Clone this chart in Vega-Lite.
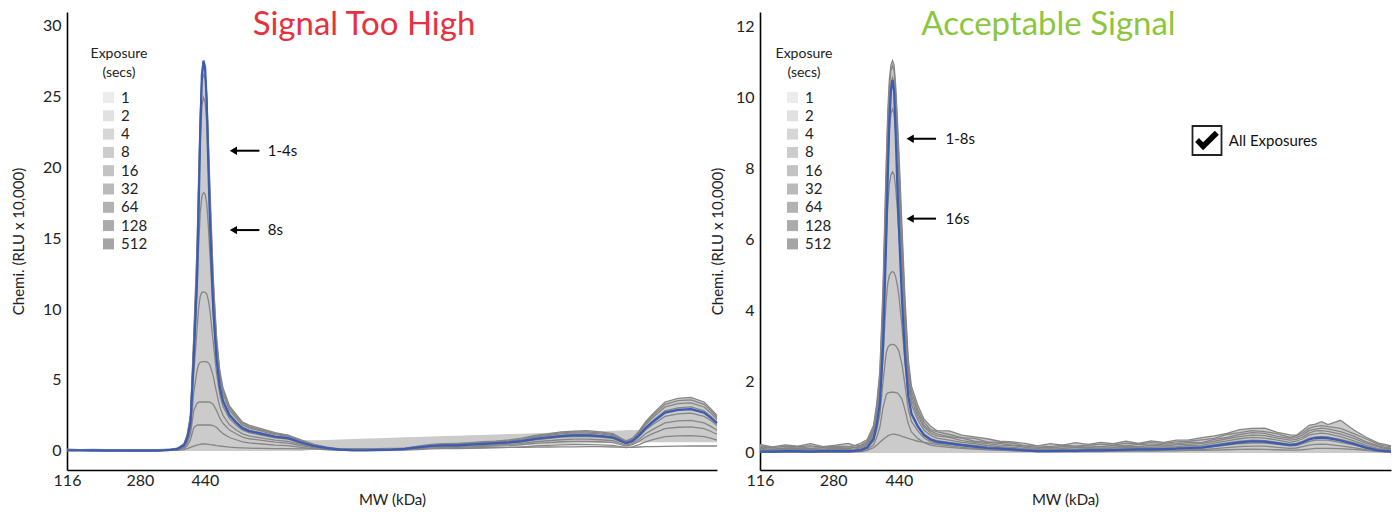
{
  "$schema": "https://vega.github.io/schema/vega-lite/v6.json",
  "padding": {"left": 11, "top": 9, "right": 5, "bottom": 5},
  "config": {
    "font": "Lato",
    "view": {"stroke": null},
    "axis": {"grid": false, "ticks": false, "domainColor": "#000", "domainWidth": 1.6, "labelFontSize": 16, "labelColor": "#222", "titleFontSize": 15, "titleFontWeight": "normal", "titleColor": "#222", "labelPadding": 6, "labelFlush": false},
    "title": {"fontSize": 33, "fontWeight": "normal", "offset": -30}
  },
  "spacing": -12,
  "resolve": {"scale": {"color": "independent"}, "legend": {"color": "independent"}},
  "datasets": {
    "legend": [{"k": "1"}, {"k": "2"}, {"k": "4"}, {"k": "8"}, {"k": "16"}, {"k": "32"}, {"k": "64"}, {"k": "128"}, {"k": "512"}],
    "notes": [
      {"s": "L", "xh": 25.6, "x2": 29.6, "xt": 30.9, "y": 21.15, "t": "1-4s"},
      {"s": "L", "xh": 25.6, "x2": 29.6, "xt": 30.9, "y": 15.56, "t": "8s"},
      {"s": "R", "xh": 23.8, "x2": 27.9, "xt": 29.4, "y": 8.85, "t": "1-8s"},
      {"s": "R", "xh": 23.8, "x2": 27.9, "xt": 29.4, "y": 6.6, "t": "16s"}
    ],
    "check": [{"x": 70.84, "y": 8.8, "xt": 74.3, "t": "All Exposures"}],
    "left": [
      {"p":0,"e1":0.02,"e2":0.02,"e4":0.03,"e8":0.04,"e16":0.05,"e32":0.06,"e64":0.08,"e128":0.1,"e512":0.12,"b":0.05,"ft":0.12,"fb":0},
      {"p":2,"e1":0.02,"e2":0.02,"e4":0.03,"e8":0.04,"e16":0.05,"e32":0.06,"e64":0.07,"e128":0.09,"e512":0.1,"b":0.05,"ft":0.1,"fb":0},
      {"p":4,"e1":0.02,"e2":0.02,"e4":0.03,"e8":0.03,"e16":0.04,"e32":0.05,"e64":0.07,"e128":0.08,"e512":0.11,"b":0.04,"ft":0.11,"fb":0},
      {"p":6,"e1":0.02,"e2":0.02,"e4":0.02,"e8":0.03,"e16":0.04,"e32":0.05,"e64":0.06,"e128":0.08,"e512":0.09,"b":0.03,"ft":0.09,"fb":0},
      {"p":8,"e1":0.02,"e2":0.02,"e4":0.02,"e8":0.03,"e16":0.04,"e32":0.05,"e64":0.06,"e128":0.07,"e512":0.1,"b":0.03,"ft":0.1,"fb":0},
      {"p":10,"e1":0.02,"e2":0.01,"e4":0.02,"e8":0.02,"e16":0.03,"e32":0.04,"e64":0.05,"e128":0.07,"e512":0.08,"b":0.02,"ft":0.08,"fb":0},
      {"p":12,"e1":0.02,"e2":0.01,"e4":0.02,"e8":0.02,"e16":0.03,"e32":0.04,"e64":0.05,"e128":0.06,"e512":0.09,"b":0.02,"ft":0.09,"fb":0},
      {"p":14,"e1":0.02,"e2":0.02,"e4":0.02,"e8":0.03,"e16":0.04,"e32":0.05,"e64":0.06,"e128":0.08,"e512":0.1,"b":0.03,"ft":0.1,"fb":0},
      {"p":15,"e1":0.03,"e2":0.03,"e4":0.04,"e8":0.05,"e16":0.06,"e32":0.07,"e64":0.08,"e128":0.1,"e512":0.11,"b":0.05,"ft":0.11,"fb":0},
      {"p":16,"e1":0.04,"e2":0.04,"e4":0.05,"e8":0.07,"e16":0.08,"e32":0.09,"e64":0.1,"e128":0.12,"e512":0.13,"b":0.08,"ft":0.13,"fb":0},
      {"p":17,"e1":0.05,"e2":0.06,"e4":0.1,"e8":0.11,"e16":0.14,"e32":0.16,"e64":0.17,"e128":0.18,"e512":0.2,"b":0.15,"ft":0.2,"fb":0},
      {"p":18,"e1":0.1,"e2":0.17,"e4":0.25,"e8":0.3,"e16":0.37,"e32":0.42,"e64":0.46,"e128":0.49,"e512":0.51,"b":0.4,"ft":0.51,"fb":0},
      {"p":18.5,"e1":0.16,"e2":0.37,"e4":0.56,"e8":0.68,"e16":0.83,"e32":0.95,"e64":1.04,"e128":1.1,"e512":1.14,"b":0.9,"ft":1.14,"fb":0},
      {"p":19,"e1":0.25,"e2":0.79,"e4":1.21,"e8":1.49,"e16":1.83,"e32":2.1,"e64":2.3,"e128":2.44,"e512":2.54,"b":2,"ft":2.54,"fb":0},
      {"p":19.5,"e1":0.34,"e2":1.65,"e4":2.86,"e8":4.13,"e16":5.5,"e32":6.59,"e64":7.36,"e128":7.8,"e512":8.1,"b":6.5,"ft":8.1,"fb":0},
      {"p":20,"e1":0.42,"e2":1.82,"e4":3.36,"e8":5.64,"e16":8.56,"e32":11.2,"e64":13.1,"e128":13.9,"e512":14.4,"b":12,"ft":14.4,"fb":0},
      {"p":20.25,"e1":0.45,"e2":1.83,"e4":3.44,"e8":6.09,"e16":10.07,"e32":14.4,"e64":17.6,"e128":18.8,"e512":19.3,"b":17,"ft":19.3,"fb":0},
      {"p":20.5,"e1":0.47,"e2":1.83,"e4":3.45,"e8":6.25,"e16":10.9,"e32":16.8,"e64":21.8,"e128":23.3,"e512":23.8,"b":22.5,"ft":23.8,"fb":0},
      {"p":20.75,"e1":0.49,"e2":1.83,"e4":3.45,"e8":6.28,"e16":11.17,"e32":17.95,"e64":24.3,"e128":26,"e512":26.4,"b":26.5,"ft":26.5,"fb":0},
      {"p":21,"e1":0.49,"e2":1.83,"e4":3.45,"e8":6.3,"e16":11.2,"e32":18.2,"e64":24.9,"e128":26.5,"e512":27,"b":27.5,"ft":27.5,"fb":0},
      {"p":21.25,"e1":0.49,"e2":1.83,"e4":3.45,"e8":6.3,"e16":11.18,"e32":18.1,"e64":24.6,"e128":26.3,"e512":26.7,"b":27,"ft":27,"fb":0},
      {"p":21.5,"e1":0.48,"e2":1.83,"e4":3.45,"e8":6.27,"e16":11.05,"e32":17.4,"e64":23.1,"e128":24.7,"e512":25.1,"b":24.5,"ft":25.1,"fb":0},
      {"p":21.75,"e1":0.47,"e2":1.83,"e4":3.45,"e8":6.2,"e16":10.6,"e32":15.8,"e64":20,"e128":21.4,"e512":21.9,"b":20,"ft":21.9,"fb":0},
      {"p":22,"e1":0.45,"e2":1.83,"e4":3.44,"e8":6.04,"e16":9.85,"e32":13.8,"e64":16.8,"e128":17.9,"e512":18.4,"b":16,"ft":18.4,"fb":0},
      {"p":22.5,"e1":0.42,"e2":1.79,"e4":3.28,"e8":5.27,"e16":7.64,"e32":9.66,"e64":11.1,"e128":11.8,"e512":12.2,"b":10,"ft":12.2,"fb":0},
      {"p":23,"e1":0.38,"e2":1.65,"e4":2.86,"e8":4.13,"e16":5.5,"e32":6.59,"e64":7.36,"e128":7.8,"e512":8.1,"b":6.5,"ft":8.1,"fb":0},
      {"p":23.5,"e1":0.35,"e2":1.42,"e4":2.33,"e8":3.12,"e16":3.97,"e32":4.64,"e64":5.15,"e128":5.45,"e512":5.67,"b":4.5,"ft":5.67,"fb":0},
      {"p":24,"e1":0.32,"e2":1.22,"e4":1.95,"e8":2.51,"e16":3.14,"e32":3.65,"e64":4,"e128":4.25,"e512":4.43,"b":3.5,"ft":4.43,"fb":0},
      {"p":25,"e1":0.27,"e2":0.95,"e4":1.47,"e8":1.84,"e16":2.28,"e32":2.62,"e64":2.87,"e128":3.05,"e512":3.17,"b":2.5,"ft":3.17,"fb":0},
      {"p":26,"e1":0.24,"e2":0.79,"e4":1.21,"e8":1.49,"e16":1.83,"e32":2.1,"e64":2.32,"e128":2.46,"e512":2.6,"b":2,"ft":2.6,"fb":0},
      {"p":27,"e1":0.22,"e2":0.64,"e4":0.98,"e8":1.21,"e16":1.47,"e32":1.68,"e64":1.84,"e128":1.97,"e512":2.03,"b":1.6,"ft":2.03,"fb":0},
      {"p":28,"e1":0.2,"e2":0.57,"e4":0.86,"e8":1.06,"e16":1.29,"e32":1.47,"e64":1.63,"e128":1.71,"e512":1.82,"b":1.4,"ft":1.82,"fb":0},
      {"p":30,"e1":0.18,"e2":0.49,"e4":0.75,"e8":0.91,"e16":1.1,"e32":1.26,"e64":1.38,"e128":1.46,"e512":1.55,"b":1.2,"ft":1.55,"fb":0},
      {"p":32,"e1":0.17,"e2":0.41,"e4":0.62,"e8":0.76,"e16":0.92,"e32":1.05,"e64":1.15,"e128":1.22,"e512":1.3,"b":1,"ft":1.3,"fb":0},
      {"p":34,"e1":0.16,"e2":0.37,"e4":0.56,"e8":0.68,"e16":0.83,"e32":0.95,"e64":1.04,"e128":1.1,"e512":1.12,"b":0.9,"ft":1.12,"fb":0},
      {"p":36,"e1":0.15,"e2":0.25,"e4":0.38,"e8":0.46,"e16":0.55,"e32":0.63,"e64":0.69,"e128":0.73,"e512":0.78,"b":0.6,"ft":0.78,"fb":0},
      {"p":38,"e1":0.15,"e2":0.15,"e4":0.22,"e8":0.27,"e16":0.32,"e32":0.37,"e64":0.4,"e128":0.43,"e512":0.46,"b":0.35,"ft":0.76,"fb":0.08},
      {"p":40,"e1":0.15,"e2":0.08,"e4":0.13,"e8":0.15,"e16":0.18,"e32":0.21,"e64":0.23,"e128":0.24,"e512":0.27,"b":0.2,"ft":0.78,"fb":0.1},
      {"p":42,"e1":0.16,"e2":0.04,"e4":0.06,"e8":0.08,"e16":0.09,"e32":0.11,"e64":0.12,"e128":0.12,"e512":0.15,"b":0.1,"ft":0.81,"fb":0.08},
      {"p":44,"e1":0.16,"e2":0.02,"e4":0.03,"e8":0.04,"e16":0.05,"e32":0.05,"e64":0.06,"e128":0.06,"e512":0.08,"b":0.05,"ft":0.84,"fb":0.05},
      {"p":46,"e1":0.17,"e2":0.02,"e4":0.03,"e8":0.04,"e16":0.05,"e32":0.05,"e64":0.06,"e128":0.07,"e512":0.09,"b":0.05,"ft":0.87,"fb":0.05},
      {"p":48,"e1":0.17,"e2":0.03,"e4":0.05,"e8":0.06,"e16":0.07,"e32":0.08,"e64":0.09,"e128":0.1,"e512":0.11,"b":0.08,"ft":0.9,"fb":0.08},
      {"p":50,"e1":0.18,"e2":0.04,"e4":0.06,"e8":0.08,"e16":0.09,"e32":0.11,"e64":0.12,"e128":0.13,"e512":0.14,"b":0.1,"ft":0.93,"fb":0.1},
      {"p":52,"e1":0.19,"e2":0.06,"e4":0.1,"e8":0.11,"e16":0.14,"e32":0.16,"e64":0.17,"e128":0.19,"e512":0.2,"b":0.15,"ft":0.96,"fb":0.15},
      {"p":54,"e1":0.2,"e2":0.1,"e4":0.16,"e8":0.19,"e16":0.23,"e32":0.26,"e64":0.29,"e128":0.31,"e512":0.34,"b":0.25,"ft":0.99,"fb":0.22},
      {"p":56,"e1":0.2,"e2":0.15,"e4":0.22,"e8":0.27,"e16":0.32,"e32":0.37,"e64":0.4,"e128":0.43,"e512":0.46,"b":0.35,"ft":1.02,"fb":0.27},
      {"p":58,"e1":0.21,"e2":0.17,"e4":0.25,"e8":0.3,"e16":0.37,"e32":0.42,"e64":0.46,"e128":0.49,"e512":0.52,"b":0.4,"ft":1.05,"fb":0.29},
      {"p":60,"e1":0.22,"e2":0.17,"e4":0.25,"e8":0.3,"e16":0.37,"e32":0.42,"e64":0.46,"e128":0.5,"e512":0.54,"b":0.4,"ft":1.08,"fb":0.31},
      {"p":62,"e1":0.22,"e2":0.19,"e4":0.28,"e8":0.34,"e16":0.41,"e32":0.47,"e64":0.52,"e128":0.55,"e512":0.58,"b":0.45,"ft":1.1,"fb":0.33},
      {"p":64,"e1":0.23,"e2":0.21,"e4":0.32,"e8":0.38,"e16":0.46,"e32":0.53,"e64":0.58,"e128":0.61,"e512":0.66,"b":0.5,"ft":1.13,"fb":0.35},
      {"p":66,"e1":0.24,"e2":0.23,"e4":0.35,"e8":0.42,"e16":0.51,"e32":0.58,"e64":0.63,"e128":0.67,"e512":0.7,"b":0.55,"ft":1.16,"fb":0.38},
      {"p":68,"e1":0.25,"e2":0.25,"e4":0.38,"e8":0.46,"e16":0.55,"e32":0.63,"e64":0.69,"e128":0.73,"e512":0.78,"b":0.6,"ft":1.19,"fb":0.4},
      {"p":70,"e1":0.26,"e2":0.29,"e4":0.44,"e8":0.53,"e16":0.64,"e32":0.74,"e64":0.81,"e128":0.85,"e512":0.9,"b":0.7,"ft":1.22,"fb":0.42},
      {"p":72,"e1":0.27,"e2":0.35,"e4":0.53,"e8":0.65,"e16":0.78,"e32":0.89,"e64":0.98,"e128":1.04,"e512":1.1,"b":0.85,"ft":1.25,"fb":0.44},
      {"p":74,"e1":0.28,"e2":0.39,"e4":0.59,"e8":0.72,"e16":0.87,"e32":1,"e64":1.09,"e128":1.16,"e512":1.21,"b":0.95,"ft":1.28,"fb":0.46},
      {"p":76,"e1":0.29,"e2":0.43,"e4":0.65,"e8":0.79,"e16":0.97,"e32":1.1,"e64":1.21,"e128":1.28,"e512":1.35,"b":1.05,"ft":1.35,"fb":0.48},
      {"p":78,"e1":0.29,"e2":0.45,"e4":0.68,"e8":0.83,"e16":1.01,"e32":1.16,"e64":1.27,"e128":1.34,"e512":1.4,"b":1.1,"ft":1.4,"fb":0.5},
      {"p":80,"e1":0.3,"e2":0.45,"e4":0.68,"e8":0.83,"e16":1.01,"e32":1.16,"e64":1.26,"e128":1.35,"e512":1.43,"b":1.1,"ft":1.43,"fb":0.53},
      {"p":82,"e1":0.3,"e2":0.43,"e4":0.65,"e8":0.79,"e16":0.97,"e32":1.1,"e64":1.2,"e128":1.28,"e512":1.34,"b":1.05,"ft":1.4,"fb":0.55},
      {"p":84,"e1":0.28,"e2":0.39,"e4":0.59,"e8":0.72,"e16":0.87,"e32":1,"e64":1.09,"e128":1.16,"e512":1.22,"b":0.95,"ft":1.43,"fb":0.57},
      {"p":85,"e1":0.27,"e2":0.31,"e4":0.47,"e8":0.57,"e16":0.69,"e32":0.79,"e64":0.86,"e128":0.92,"e512":0.96,"b":0.75,"ft":1.44,"fb":0.58},
      {"p":86,"e1":0.25,"e2":0.23,"e4":0.35,"e8":0.42,"e16":0.51,"e32":0.58,"e64":0.63,"e128":0.67,"e512":0.71,"b":0.55,"ft":1.46,"fb":0.59},
      {"p":87,"e1":0.26,"e2":0.29,"e4":0.44,"e8":0.53,"e16":0.64,"e32":0.74,"e64":0.81,"e128":0.85,"e512":0.9,"b":0.7,"ft":1.47,"fb":0.6},
      {"p":88,"e1":0.28,"e2":0.45,"e4":0.68,"e8":0.83,"e16":1.01,"e32":1.16,"e64":1.27,"e128":1.34,"e512":1.4,"b":1.1,"ft":1.48,"fb":0.6},
      {"p":89,"e1":0.3,"e2":0.64,"e4":0.98,"e8":1.21,"e16":1.47,"e32":1.68,"e64":1.84,"e128":1.95,"e512":2.05,"b":1.6,"ft":2.05,"fb":0.6},
      {"p":90,"e1":0.31,"e2":0.79,"e4":1.21,"e8":1.49,"e16":1.83,"e32":2.1,"e64":2.3,"e128":2.44,"e512":2.56,"b":2,"ft":2.56,"fb":0.61},
      {"p":92,"e1":0.33,"e2":1.01,"e4":1.58,"e8":1.98,"e16":2.44,"e32":2.83,"e64":3.1,"e128":3.29,"e512":3.45,"b":2.7,"ft":3.45,"fb":0.61},
      {"p":94,"e1":0.34,"e2":1.06,"e4":1.67,"e8":2.12,"e16":2.62,"e32":3.04,"e64":3.33,"e128":3.54,"e512":3.7,"b":2.9,"ft":3.7,"fb":0.62},
      {"p":96,"e1":0.35,"e2":1.08,"e4":1.7,"e8":2.16,"e16":2.67,"e32":3.1,"e64":3.39,"e128":3.6,"e512":3.78,"b":2.95,"ft":3.78,"fb":0.62},
      {"p":98,"e1":0.35,"e2":1.01,"e4":1.58,"e8":1.98,"e16":2.44,"e32":2.83,"e64":3.1,"e128":3.29,"e512":3.45,"b":2.7,"ft":3.45,"fb":0.62},
      {"p":99,"e1":0.35,"e2":0.9,"e4":1.39,"e8":1.75,"e16":2.16,"e32":2.47,"e64":2.7,"e128":2.87,"e512":3,"b":2.35,"ft":3,"fb":0.62},
      {"p":100,"e1":0.35,"e2":0.77,"e4":1.18,"e8":1.46,"e16":1.79,"e32":2.05,"e64":2.24,"e128":2.38,"e512":2.5,"b":1.95,"ft":2.5,"fb":0.62}
    ],
    "right": [
      {"p":0,"e1":0.02,"e2":0.03,"e4":0.05,"e8":0.07,"e16":0.09,"e32":0.13,"e64":0.16,"e128":0.2,"e512":0.24,"b":0.04},
      {"p":2,"e1":0.02,"e2":0.03,"e4":0.05,"e8":0.07,"e16":0.09,"e32":0.1,"e64":0.14,"e128":0.15,"e512":0.17,"b":0.04},
      {"p":4,"e1":0.02,"e2":0.04,"e4":0.06,"e8":0.08,"e16":0.1,"e32":0.14,"e64":0.13,"e128":0.19,"e512":0.23,"b":0.05},
      {"p":6,"e1":0.02,"e2":0.04,"e4":0.06,"e8":0.08,"e16":0.1,"e32":0.12,"e64":0.17,"e128":0.17,"e512":0.19,"b":0.05},
      {"p":8,"e1":0.02,"e2":0.03,"e4":0.05,"e8":0.07,"e16":0.09,"e32":0.13,"e64":0.13,"e128":0.2,"e512":0.26,"b":0.04},
      {"p":10,"e1":0.02,"e2":0.04,"e4":0.06,"e8":0.08,"e16":0.1,"e32":0.11,"e64":0.16,"e128":0.16,"e512":0.18,"b":0.05},
      {"p":12,"e1":0.02,"e2":0.04,"e4":0.06,"e8":0.08,"e16":0.1,"e32":0.14,"e64":0.15,"e128":0.19,"e512":0.22,"b":0.05},
      {"p":14,"e1":0.02,"e2":0.04,"e4":0.06,"e8":0.08,"e16":0.1,"e32":0.12,"e64":0.17,"e128":0.18,"e512":0.27,"b":0.05},
      {"p":15,"e1":0.03,"e2":0.04,"e4":0.07,"e8":0.09,"e16":0.11,"e32":0.15,"e64":0.15,"e128":0.2,"e512":0.21,"b":0.06},
      {"p":16,"e1":0.04,"e2":0.05,"e4":0.08,"e8":0.11,"e16":0.14,"e32":0.16,"e64":0.2,"e128":0.22,"e512":0.28,"b":0.08},
      {"p":17,"e1":0.07,"e2":0.09,"e4":0.14,"e8":0.18,"e16":0.22,"e32":0.26,"e64":0.29,"e128":0.33,"e512":0.38,"b":0.15},
      {"p":18,"e1":0.15,"e2":0.23,"e4":0.34,"e8":0.43,"e16":0.52,"e32":0.58,"e64":0.64,"e128":0.7,"e512":0.78,"b":0.4},
      {"p":18.5,"e1":0.22,"e2":0.44,"e4":0.65,"e8":0.83,"e16":1,"e32":1.1,"e64":1.2,"e128":1.3,"e512":1.4,"b":0.8},
      {"p":19,"e1":0.3,"e2":0.73,"e4":1.09,"e8":1.4,"e16":1.7,"e32":1.86,"e64":2.02,"e128":2.18,"e512":2.33,"b":1.4},
      {"p":19.5,"e1":0.38,"e2":1.28,"e4":2.02,"e8":2.74,"e16":3.45,"e32":3.82,"e64":4.13,"e128":4.42,"e512":4.69,"b":3},
      {"p":20,"e1":0.45,"e2":1.64,"e4":2.82,"e8":4.31,"e16":5.98,"e32":6.87,"e64":7.45,"e128":7.85,"e512":8.18,"b":6},
      {"p":20.25,"e1":0.48,"e2":1.69,"e4":2.97,"e8":4.78,"e16":6.98,"e32":8.25,"e64":8.96,"e128":9.36,"e512":9.63,"b":7.8},
      {"p":20.5,"e1":0.5,"e2":1.7,"e4":3.03,"e8":4.99,"e16":7.56,"e32":9.13,"e64":9.94,"e128":10.31,"e512":10.52,"b":9.3},
      {"p":20.75,"e1":0.52,"e2":1.71,"e4":3.05,"e8":5.08,"e16":7.84,"e32":9.56,"e64":10.43,"e128":10.78,"e512":10.93,"b":10.2},
      {"p":21,"e1":0.53,"e2":1.71,"e4":3.06,"e8":5.11,"e16":7.92,"e32":9.69,"e64":10.57,"e128":10.9,"e512":11.05,"b":10.5},
      {"p":21.25,"e1":0.53,"e2":1.71,"e4":3.05,"e8":5.08,"e16":7.84,"e32":9.56,"e64":10.43,"e128":10.78,"e512":10.93,"b":10.2},
      {"p":21.5,"e1":0.52,"e2":1.7,"e4":3.02,"e8":4.96,"e16":7.47,"e32":8.98,"e64":9.76,"e128":10.14,"e512":10.35,"b":9},
      {"p":21.75,"e1":0.51,"e2":1.69,"e4":2.96,"e8":4.74,"e16":6.89,"e32":8.1,"e64":8.81,"e128":9.22,"e512":9.49,"b":7.6},
      {"p":22,"e1":0.5,"e2":1.65,"e4":2.87,"e8":4.44,"e16":6.23,"e32":7.21,"e64":7.81,"e128":8.23,"e512":8.55,"b":6.4},
      {"p":22.5,"e1":0.47,"e2":1.51,"e4":2.49,"e8":3.57,"e16":4.68,"e32":5.26,"e64":5.68,"e128":6.05,"e512":6.37,"b":4.3},
      {"p":23,"e1":0.44,"e2":1.2,"e4":1.88,"e8":2.51,"e16":3.14,"e32":3.47,"e64":3.75,"e128":4.01,"e512":4.27,"b":2.7},
      {"p":23.5,"e1":0.41,"e2":0.82,"e4":1.23,"e8":1.58,"e16":1.93,"e32":2.12,"e64":2.3,"e128":2.47,"e512":2.64,"b":1.6},
      {"p":24,"e1":0.38,"e2":0.59,"e4":0.89,"e8":1.13,"e16":1.36,"e32":1.49,"e64":1.62,"e128":1.75,"e512":1.88,"b":1.1},
      {"p":25,"e1":0.33,"e2":0.41,"e4":0.62,"e8":0.78,"e16":0.94,"e32":1.04,"e64":1.13,"e128":1.22,"e512":1.35,"b":0.75},
      {"p":26,"e1":0.3,"e2":0.29,"e4":0.42,"e8":0.53,"e16":0.64,"e32":0.73,"e64":0.78,"e128":0.87,"e512":0.95,"b":0.5},
      {"p":27,"e1":0.27,"e2":0.22,"e4":0.32,"e8":0.41,"e16":0.5,"e32":0.56,"e64":0.62,"e128":0.66,"e512":0.76,"b":0.38},
      {"p":28,"e1":0.24,"e2":0.19,"e4":0.28,"e8":0.35,"e16":0.42,"e32":0.48,"e64":0.54,"e128":0.6,"e512":0.63,"b":0.32},
      {"p":30,"e1":0.2,"e2":0.16,"e4":0.24,"e8":0.3,"e16":0.36,"e32":0.44,"e64":0.46,"e128":0.52,"e512":0.62,"b":0.27},
      {"p":32,"e1":0.16,"e2":0.13,"e4":0.2,"e8":0.25,"e16":0.3,"e32":0.35,"e64":0.42,"e128":0.43,"e512":0.5,"b":0.22},
      {"p":34,"e1":0.13,"e2":0.11,"e4":0.16,"e8":0.21,"e16":0.26,"e32":0.3,"e64":0.33,"e128":0.41,"e512":0.45,"b":0.18},
      {"p":36,"e1":0.1,"e2":0.09,"e4":0.13,"e8":0.17,"e16":0.21,"e32":0.26,"e64":0.3,"e128":0.31,"e512":0.4,"b":0.14},
      {"p":38,"e1":0.08,"e2":0.08,"e4":0.12,"e8":0.15,"e16":0.18,"e32":0.22,"e64":0.27,"e128":0.3,"e512":0.33,"b":0.12},
      {"p":40,"e1":0.06,"e2":0.07,"e4":0.1,"e8":0.13,"e16":0.16,"e32":0.21,"e64":0.22,"e128":0.28,"e512":0.31,"b":0.1},
      {"p":42,"e1":0.05,"e2":0.05,"e4":0.08,"e8":0.1,"e16":0.12,"e32":0.16,"e64":0.2,"e128":0.2,"e512":0.27,"b":0.07},
      {"p":44,"e1":0.04,"e2":0.04,"e4":0.06,"e8":0.08,"e16":0.1,"e32":0.13,"e64":0.16,"e128":0.2,"e512":0.2,"b":0.05},
      {"p":46,"e1":0.04,"e2":0.04,"e4":0.06,"e8":0.08,"e16":0.1,"e32":0.15,"e64":0.14,"e128":0.18,"e512":0.26,"b":0.05},
      {"p":48,"e1":0.04,"e2":0.04,"e4":0.07,"e8":0.09,"e16":0.11,"e32":0.13,"e64":0.18,"e128":0.22,"e512":0.22,"b":0.06},
      {"p":50,"e1":0.04,"e2":0.04,"e4":0.07,"e8":0.09,"e16":0.11,"e32":0.16,"e64":0.17,"e128":0.19,"e512":0.29,"b":0.06},
      {"p":52,"e1":0.04,"e2":0.05,"e4":0.08,"e8":0.1,"e16":0.12,"e32":0.15,"e64":0.2,"e128":0.22,"e512":0.24,"b":0.07},
      {"p":54,"e1":0.04,"e2":0.05,"e4":0.08,"e8":0.1,"e16":0.12,"e32":0.17,"e64":0.18,"e128":0.25,"e512":0.3,"b":0.07},
      {"p":56,"e1":0.05,"e2":0.05,"e4":0.08,"e8":0.11,"e16":0.14,"e32":0.16,"e64":0.21,"e128":0.22,"e512":0.26,"b":0.08},
      {"p":58,"e1":0.05,"e2":0.06,"e4":0.09,"e8":0.12,"e16":0.15,"e32":0.19,"e64":0.2,"e128":0.27,"e512":0.33,"b":0.09},
      {"p":60,"e1":0.05,"e2":0.07,"e4":0.1,"e8":0.13,"e16":0.16,"e32":0.18,"e64":0.24,"e128":0.26,"e512":0.27,"b":0.1},
      {"p":62,"e1":0.05,"e2":0.07,"e4":0.1,"e8":0.13,"e16":0.16,"e32":0.21,"e64":0.22,"e128":0.29,"e512":0.34,"b":0.1},
      {"p":64,"e1":0.06,"e2":0.07,"e4":0.11,"e8":0.14,"e16":0.17,"e32":0.2,"e64":0.25,"e128":0.27,"e512":0.3,"b":0.11},
      {"p":66,"e1":0.06,"e2":0.08,"e4":0.12,"e8":0.15,"e16":0.18,"e32":0.23,"e64":0.26,"e128":0.31,"e512":0.36,"b":0.12},
      {"p":68,"e1":0.07,"e2":0.09,"e4":0.13,"e8":0.17,"e16":0.21,"e32":0.25,"e64":0.3,"e128":0.33,"e512":0.37,"b":0.14},
      {"p":70,"e1":0.07,"e2":0.09,"e4":0.14,"e8":0.18,"e16":0.22,"e32":0.27,"e64":0.29,"e128":0.37,"e512":0.43,"b":0.15},
      {"p":72,"e1":0.08,"e2":0.12,"e4":0.18,"e8":0.23,"e16":0.28,"e32":0.33,"e64":0.38,"e128":0.41,"e512":0.48,"b":0.2},
      {"p":74,"e1":0.09,"e2":0.15,"e4":0.22,"e8":0.28,"e16":0.34,"e32":0.4,"e64":0.44,"e128":0.52,"e512":0.55,"b":0.25},
      {"p":76,"e1":0.1,"e2":0.18,"e4":0.26,"e8":0.33,"e16":0.4,"e32":0.46,"e64":0.52,"e128":0.57,"e512":0.66,"b":0.3},
      {"p":78,"e1":0.11,"e2":0.19,"e4":0.28,"e8":0.36,"e16":0.44,"e32":0.5,"e64":0.57,"e128":0.63,"e512":0.69,"b":0.33},
      {"p":80,"e1":0.1,"e2":0.19,"e4":0.28,"e8":0.35,"e16":0.42,"e32":0.49,"e64":0.55,"e128":0.6,"e512":0.7,"b":0.32},
      {"p":82,"e1":0.09,"e2":0.16,"e4":0.24,"e8":0.3,"e16":0.36,"e32":0.42,"e64":0.47,"e128":0.54,"e512":0.58,"b":0.27},
      {"p":84,"e1":0.08,"e2":0.13,"e4":0.2,"e8":0.25,"e16":0.3,"e32":0.36,"e64":0.41,"e128":0.44,"e512":0.51,"b":0.22},
      {"p":85,"e1":0.08,"e2":0.14,"e4":0.21,"e8":0.27,"e16":0.33,"e32":0.38,"e64":0.43,"e128":0.48,"e512":0.5,"b":0.24},
      {"p":86,"e1":0.09,"e2":0.18,"e4":0.26,"e8":0.33,"e16":0.4,"e32":0.45,"e64":0.51,"e128":0.57,"e512":0.63,"b":0.3},
      {"p":87,"e1":0.11,"e2":0.22,"e4":0.32,"e8":0.41,"e16":0.5,"e32":0.56,"e64":0.63,"e128":0.69,"e512":0.78,"b":0.38},
      {"p":88,"e1":0.13,"e2":0.24,"e4":0.36,"e8":0.45,"e16":0.54,"e32":0.62,"e64":0.67,"e128":0.75,"e512":0.81,"b":0.42},
      {"p":89,"e1":0.13,"e2":0.25,"e4":0.36,"e8":0.46,"e16":0.56,"e32":0.63,"e64":0.7,"e128":0.77,"e512":0.88,"b":0.43},
      {"p":90,"e1":0.13,"e2":0.24,"e4":0.36,"e8":0.45,"e16":0.54,"e32":0.61,"e64":0.68,"e128":0.74,"e512":0.8,"b":0.42},
      {"p":92,"e1":0.12,"e2":0.2,"e4":0.3,"e8":0.38,"e16":0.46,"e32":0.53,"e64":0.6,"e128":0.69,"e512":0.92,"b":0.35},
      {"p":94,"e1":0.1,"e2":0.15,"e4":0.23,"e8":0.29,"e16":0.35,"e32":0.42,"e64":0.48,"e128":0.55,"e512":0.66,"b":0.26},
      {"p":96,"e1":0.07,"e2":0.09,"e4":0.14,"e8":0.18,"e16":0.22,"e32":0.28,"e64":0.32,"e128":0.4,"e512":0.45,"b":0.15},
      {"p":98,"e1":0.04,"e2":0.05,"e4":0.08,"e8":0.1,"e16":0.12,"e32":0.17,"e64":0.2,"e128":0.24,"e512":0.28,"b":0.07},
      {"p":99,"e1":0.03,"e2":0.04,"e4":0.06,"e8":0.08,"e16":0.1,"e32":0.13,"e64":0.16,"e128":0.2,"e512":0.24,"b":0.05},
      {"p":100,"e1":0.03,"e2":0.03,"e4":0.05,"e8":0.07,"e16":0.09,"e32":0.12,"e64":0.14,"e128":0.18,"e512":0.2,"b":0.04}
    ]
  },
  "hconcat": [
    {
      "width": 650,
      "height": 458,
      "title": {"text": "Signal Too High", "color": "#e8313e", "dx": -28},
      "layer": [
        {
          "data": {"name": "left"},
          "mark": {"type": "area", "fill": "#cbcbcb", "stroke": null},
          "encoding": {
            "x": {"field": "p", "type": "quantitative", "title": "MW (kDa)", "scale": {"domain": [0, 100], "nice": false, "zero": false},
                  "axis": {"values": [0, 11.2, 21.2], "labelExpr": "datum.value == 0 ? '116' : datum.value < 15 ? '280' : '440'", "labelPadding": 2, "titlePadding": 4}},
            "y": {"field": "ft", "type": "quantitative", "title": "Chemi. (RLU x 10,000)", "scale": {"domain": [-1.34, 30.92], "nice": false, "zero": false},
                  "axis": {"values": [0, 5, 10, 15, 20, 25, 30], "titlePadding": 16}},
            "y2": {"field": "fb"}
          }
        },
        {
          "data": {"name": "left"},
          "transform": [{"fold": ["e1", "e2", "e4", "e8", "e16", "e32", "e64", "e128", "e512"], "as": ["exp", "v"]}],
          "mark": {"type": "line", "stroke": "#868686", "strokeWidth": 1.3},
          "encoding": {
            "x": {"field": "p", "type": "quantitative", "title": "MW (kDa)", "scale": {"domain": [0, 100], "nice": false, "zero": false}},
            "y": {"field": "v", "type": "quantitative", "title": "Chemi. (RLU x 10,000)", "scale": {"domain": [-1.34, 30.92], "nice": false, "zero": false}},
            "detail": {"field": "exp"}
          }
        },
        {
          "data": {"name": "left"},
          "mark": {"type": "line", "stroke": "#3b5bb5", "strokeWidth": 2.2},
          "encoding": {
            "x": {"field": "p", "type": "quantitative", "title": "MW (kDa)", "scale": {"domain": [0, 100], "nice": false, "zero": false}},
            "y": {"field": "b", "type": "quantitative", "title": "Chemi. (RLU x 10,000)", "scale": {"domain": [-1.34, 30.92], "nice": false, "zero": false}}
          }
        },
        {
          "data": {"name": "notes"},
          "transform": [{"filter": "datum.s == 'L'"}],
          "mark": {"type": "rule", "stroke": "#000", "strokeWidth": 2},
          "encoding": {
            "x": {"field": "xh", "type": "quantitative", "title": "MW (kDa)", "scale": {"domain": [0, 100], "nice": false, "zero": false}},
            "x2": {"field": "x2"},
            "y": {"field": "y", "type": "quantitative", "title": "Chemi. (RLU x 10,000)", "scale": {"domain": [-1.34, 30.92], "nice": false, "zero": false}}
          }
        },
        {
          "data": {"name": "notes"},
          "transform": [{"filter": "datum.s == 'L'"}],
          "mark": {"type": "point", "shape": "triangle-left", "size": 70, "filled": true, "color": "#000", "opacity": 1},
          "encoding": {
            "x": {"field": "xh", "type": "quantitative", "title": "MW (kDa)", "scale": {"domain": [0, 100], "nice": false, "zero": false}},
            "y": {"field": "y", "type": "quantitative", "title": "Chemi. (RLU x 10,000)", "scale": {"domain": [-1.34, 30.92], "nice": false, "zero": false}}
          }
        },
        {
          "data": {"name": "notes"},
          "transform": [{"filter": "datum.s == 'L'"}],
          "mark": {"type": "text", "align": "left", "baseline": "middle", "fontSize": 15, "color": "#111"},
          "encoding": {
            "x": {"field": "xt", "type": "quantitative", "title": "MW (kDa)", "scale": {"domain": [0, 100], "nice": false, "zero": false}},
            "y": {"field": "y", "type": "quantitative", "title": "Chemi. (RLU x 10,000)", "scale": {"domain": [-1.34, 30.92], "nice": false, "zero": false}},
            "text": {"field": "t"}
          }
        },
        {
          "data": {"name": "legend"},
          "mark": {"type": "square", "opacity": 0},
          "encoding": {
            "color": {"field": "k", "type": "nominal", "sort": null,
              "scale": {"domain": ["1", "2", "4", "8", "16", "32", "64", "128", "512"], "range": ["#ececec", "#e1e1e1", "#d6d6d6", "#cccccc", "#c3c3c3", "#bababa", "#b2b2b2", "#ababab", "#a5a5a5"]},
              "legend": {"title": ["Exposure", "(secs)"], "orient": "none", "legendX": 24, "legendY": 35, "titleAnchor": "middle", "titleAlign": "center", "titleFontSize": 14, "titleFontWeight": "normal", "titleLineHeight": 19, "titlePadding": 10, "titleColor": "#222", "labelFontSize": 15, "labelColor": "#222", "labelOffset": 5, "symbolType": "square", "symbolSize": 121, "symbolStrokeWidth": 0, "symbolOffset": 10, "symbolOpacity": 1, "rowPadding": 2.3}}
          }
        }
      ]
    },
    {
      "width": 631,
      "height": 458,
      "title": {"text": "Acceptable Signal", "color": "#8cc63f", "dx": -27},
      "layer": [
        {
          "data": {"name": "right"},
          "mark": {"type": "area", "fill": "#cbcbcb", "stroke": null},
          "encoding": {
            "x": {"field": "p", "type": "quantitative", "title": "MW (kDa)", "scale": {"domain": [0, 100], "nice": false, "zero": false},
                  "axis": {"values": [0, 11.6, 22], "labelExpr": "datum.value == 0 ? '116' : datum.value < 15 ? '280' : '440'", "labelPadding": 2, "titlePadding": 4, "titleX": 305}},
            "y": {"field": "e512", "type": "quantitative", "title": "Chemi. (RLU x 10,000)", "scale": {"domain": [-0.48, 12.42], "nice": false, "zero": false},
                  "axis": {"values": [0, 2, 4, 6, 8, 10, 12], "titlePadding": 10}},
            "y2": {"datum": 0}
          }
        },
        {
          "data": {"name": "right"},
          "transform": [{"fold": ["e1", "e2", "e4", "e8", "e16", "e32", "e64", "e128", "e512"], "as": ["exp", "v"]}],
          "mark": {"type": "line", "stroke": "#868686", "strokeWidth": 1.3},
          "encoding": {
            "x": {"field": "p", "type": "quantitative", "title": "MW (kDa)", "scale": {"domain": [0, 100], "nice": false, "zero": false}},
            "y": {"field": "v", "type": "quantitative", "title": "Chemi. (RLU x 10,000)", "scale": {"domain": [-0.48, 12.42], "nice": false, "zero": false}},
            "detail": {"field": "exp"}
          }
        },
        {
          "data": {"name": "right"},
          "mark": {"type": "line", "stroke": "#3b5bb5", "strokeWidth": 2.2},
          "encoding": {
            "x": {"field": "p", "type": "quantitative", "title": "MW (kDa)", "scale": {"domain": [0, 100], "nice": false, "zero": false}},
            "y": {"field": "b", "type": "quantitative", "title": "Chemi. (RLU x 10,000)", "scale": {"domain": [-0.48, 12.42], "nice": false, "zero": false}}
          }
        },
        {
          "data": {"name": "notes"},
          "transform": [{"filter": "datum.s == 'R'"}],
          "mark": {"type": "rule", "stroke": "#000", "strokeWidth": 2},
          "encoding": {
            "x": {"field": "xh", "type": "quantitative", "title": "MW (kDa)", "scale": {"domain": [0, 100], "nice": false, "zero": false}},
            "x2": {"field": "x2"},
            "y": {"field": "y", "type": "quantitative", "title": "Chemi. (RLU x 10,000)", "scale": {"domain": [-0.48, 12.42], "nice": false, "zero": false}}
          }
        },
        {
          "data": {"name": "notes"},
          "transform": [{"filter": "datum.s == 'R'"}],
          "mark": {"type": "point", "shape": "triangle-left", "size": 70, "filled": true, "color": "#000", "opacity": 1},
          "encoding": {
            "x": {"field": "xh", "type": "quantitative", "title": "MW (kDa)", "scale": {"domain": [0, 100], "nice": false, "zero": false}},
            "y": {"field": "y", "type": "quantitative", "title": "Chemi. (RLU x 10,000)", "scale": {"domain": [-0.48, 12.42], "nice": false, "zero": false}}
          }
        },
        {
          "data": {"name": "notes"},
          "transform": [{"filter": "datum.s == 'R'"}],
          "mark": {"type": "text", "align": "left", "baseline": "middle", "fontSize": 15, "color": "#111"},
          "encoding": {
            "x": {"field": "xt", "type": "quantitative", "title": "MW (kDa)", "scale": {"domain": [0, 100], "nice": false, "zero": false}},
            "y": {"field": "y", "type": "quantitative", "title": "Chemi. (RLU x 10,000)", "scale": {"domain": [-0.48, 12.42], "nice": false, "zero": false}},
            "text": {"field": "t"}
          }
        },
        {
          "data": {"name": "check"},
          "mark": {"type": "point", "shape": "square", "size": 841, "filled": false, "stroke": "#222", "strokeWidth": 1.8, "opacity": 1},
          "encoding": {
            "x": {"field": "x", "type": "quantitative", "title": "MW (kDa)", "scale": {"domain": [0, 100], "nice": false, "zero": false}},
            "y": {"field": "y", "type": "quantitative", "title": "Chemi. (RLU x 10,000)", "scale": {"domain": [-0.48, 12.42], "nice": false, "zero": false}}
          }
        },
        {
          "data": {"name": "check"},
          "mark": {"type": "point", "shape": "M -1 0.12 L -0.68 -0.21 L -0.33 0.15 L 0.66 -0.83 L 1 -0.49 L -0.33 0.83 Z", "size": 560, "filled": true, "color": "#000", "opacity": 1},
          "encoding": {
            "x": {"field": "x", "type": "quantitative", "title": "MW (kDa)", "scale": {"domain": [0, 100], "nice": false, "zero": false}},
            "y": {"field": "y", "type": "quantitative", "title": "Chemi. (RLU x 10,000)", "scale": {"domain": [-0.48, 12.42], "nice": false, "zero": false}}
          }
        },
        {
          "data": {"name": "check"},
          "mark": {"type": "text", "align": "left", "baseline": "middle", "fontSize": 15, "color": "#111"},
          "encoding": {
            "x": {"field": "xt", "type": "quantitative", "title": "MW (kDa)", "scale": {"domain": [0, 100], "nice": false, "zero": false}},
            "y": {"field": "y", "type": "quantitative", "title": "Chemi. (RLU x 10,000)", "scale": {"domain": [-0.48, 12.42], "nice": false, "zero": false}},
            "text": {"field": "t"}
          }
        },
        {
          "data": {"name": "legend"},
          "mark": {"type": "square", "opacity": 0},
          "encoding": {
            "color": {"field": "k", "type": "nominal", "sort": null,
              "scale": {"domain": ["1", "2", "4", "8", "16", "32", "64", "128", "512"], "range": ["#ececec", "#e1e1e1", "#d6d6d6", "#cccccc", "#c3c3c3", "#bababa", "#b2b2b2", "#ababab", "#a5a5a5"]},
              "legend": {"title": ["Exposure", "(secs)"], "orient": "none", "legendX": 16, "legendY": 35, "titleAnchor": "middle", "titleAlign": "center", "titleFontSize": 14, "titleFontWeight": "normal", "titleLineHeight": 19, "titlePadding": 10, "titleColor": "#222", "labelFontSize": 15, "labelColor": "#222", "labelOffset": 5, "symbolType": "square", "symbolSize": 121, "symbolStrokeWidth": 0, "symbolOffset": 9, "symbolOpacity": 1, "rowPadding": 2.3}}
          }
        }
      ]
    }
  ]
}
